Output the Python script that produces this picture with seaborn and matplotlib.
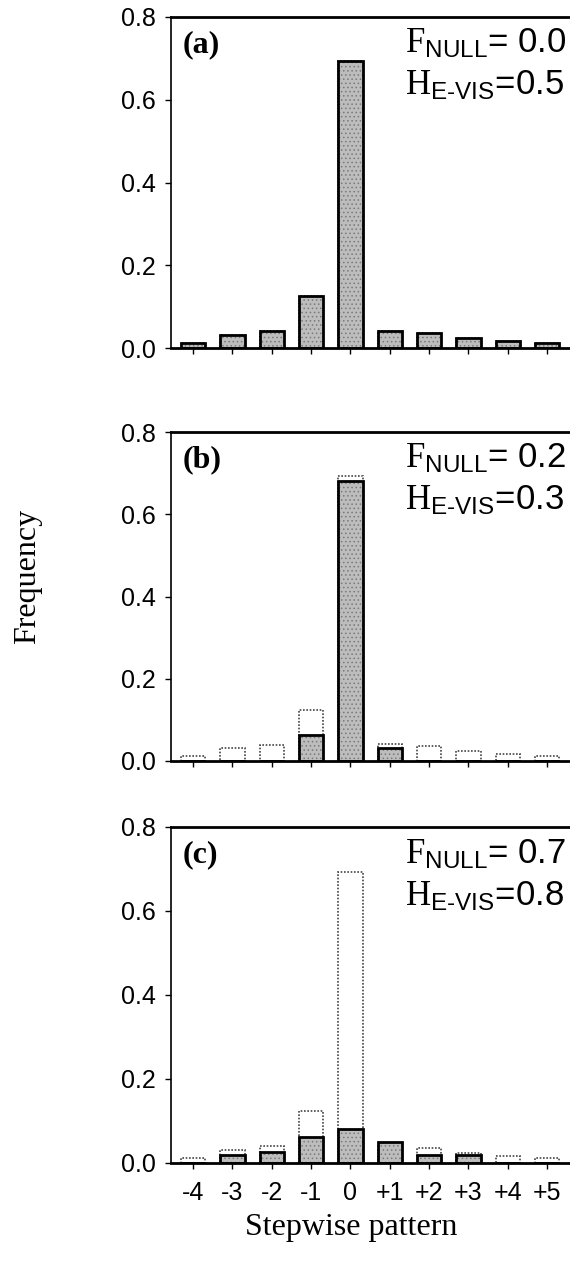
import matplotlib
matplotlib.use("Agg")
import matplotlib.pyplot as plt
import seaborn as sns

# Stepwise repeat-size changes and their frequencies
steps = ["-4", "-3", "-2", "-1", "0", "+1", "+2", "+3", "+4", "+5"]
expected = [0.012, 0.032, 0.040, 0.125, 0.693, 0.042, 0.036, 0.024, 0.016, 0.011]
observed_a = [0.012, 0.032, 0.040, 0.125, 0.693, 0.042, 0.036, 0.024, 0.016, 0.011]
observed_b = [0.0, 0.0, 0.0, 0.063, 0.680, 0.032, 0.0, 0.0, 0.0, 0.0]
observed_c = [0.0, 0.019, 0.027, 0.062, 0.080, 0.051, 0.018, 0.019, 0.0, 0.0]

panel_tags = ["(a)", "(b)", "(c)"]
f_null = ["0.0", "0.2", "0.7"]
h_evis = ["0.5", "0.3", "0.8"]
y_ticks = [0.0, 0.2, 0.4, 0.6, 0.8]

sns.set_style("ticks")
plt.rcParams["font.family"] = ["Liberation Sans", "DejaVu Sans"]
plt.rcParams["mathtext.fontset"] = "custom"
plt.rcParams["mathtext.rm"] = "Liberation Serif"
plt.rcParams["mathtext.sf"] = "Liberation Sans"
plt.rcParams["mathtext.it"] = "Liberation Serif:italic"
plt.rcParams["mathtext.bf"] = "Liberation Serif:bold"
plt.rcParams["hatch.linewidth"] = 0.6
for key in ["text.color", "axes.labelcolor", "xtick.color", "ytick.color", "axes.edgecolor"]:
    plt.rcParams[key] = "black"

W, H = 570, 1282
fig = plt.figure(figsize=(W / 100, H / 100), dpi=100)

# axes rectangles in pixels: (top, bottom)
rects = [(17, 348), (432, 761), (827, 1163)]
left_px = 171

observed_sets = [observed_a, observed_b, observed_c]
bar_w = 0.62

for i, (top, bot) in enumerate(rects):
    ax = fig.add_axes([left_px / W, 1 - bot / H, 1 - left_px / W, (bot - top) / H])

    # expected distribution: open bars with dotted outline
    sns.barplot(x=steps, y=expected, ax=ax, color="white", saturation=1,
                width=bar_w, edgecolor="#444444", linewidth=1.2, linestyle=(0, (1, 1)))
    n0 = len(ax.patches)
    # observed distribution: stippled grey fill
    sns.barplot(x=steps, y=observed_sets[i], ax=ax, color="#bdbdbd", saturation=1,
                width=bar_w, edgecolor="#7a7a7a", linewidth=0)
    for p in ax.patches[n0:]:
        p.set_hatch("....")
    # observed outline
    sns.barplot(x=steps, y=observed_sets[i], ax=ax, fill=False, saturation=1,
                width=bar_w, edgecolor="black", linewidth=2.0, color="black")

    ax.set_xlim(-0.56, 9.58)
    ax.set_ylim(0, 0.8)
    ax.set_yticks(y_ticks)
    ax.set_yticklabels([f"{v:.1f}" for v in y_ticks])
    ax.set_xlabel("")
    ax.set_ylabel("")

    for s in ["top", "bottom"]:
        ax.spines[s].set_linewidth(2.0)
    ax.spines["left"].set_linewidth(1.2)
    ax.spines["right"].set_visible(False)
    ax.spines["top"].set_visible(True)

    ax.tick_params(axis="both", direction="out", length=4, width=1,
                   labelsize=18, pad=7)
    if i < 2:
        ax.tick_params(axis="x", labelbottom=False)
    else:
        ax.set_xticklabels(steps)
        ax.tick_params(axis="x", pad=9)

    ax.text(0.028, 0.894, panel_tags[i], transform=ax.transAxes,
            fontsize=23, fontweight="bold", family="Liberation Serif",
            va="baseline", ha="left")
    ax.text(0.586, 0.891, r"$\mathrm{F}_{\mathsf{NULL}}$= " + f_null[i],
            transform=ax.transAxes, fontsize=25, va="baseline", ha="left")
    ax.text(0.586, 0.764, "$\\mathrm{H}_{\\mathsf{E\u2010VIS}}$=" + h_evis[i],
            transform=ax.transAxes, fontsize=25, va="baseline", ha="left")

fig.text(28 / W, 1 - 576 / H, "Frequency", rotation=90, fontsize=23,
         family="Liberation Serif", ha="center", va="center")
fig.text(351 / W, 1 - 1228 / H, "Stepwise pattern", fontsize=23,
         family="Liberation Serif", ha="center", va="center")

fig.savefig("out.png", dpi=100)
